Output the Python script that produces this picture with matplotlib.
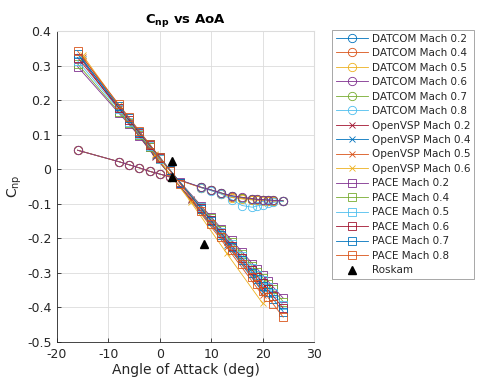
import numpy as np
import matplotlib
matplotlib.use('Agg')
import matplotlib.pyplot as plt

# MATLAB default colour order
mc = ['#0072BD', '#D95319', '#EDB120', '#7E2F8E', '#77AC30', '#4DBEEE', '#A2142F']

# DATCOM data
aoa_datcom = [-16, -8, -6, -4, -2, 0, 2, 8, 10, 12, 14, 16, 18, 19, 20, 21, 22, 24]
datcom_02 = [0.055, 0.022, 0.013, 0.004, -0.006, -0.014, -0.022, -0.052, -0.060, -0.069, -0.077, -0.082, -0.086, -0.088, -0.089, -0.090, -0.091, -0.092]
datcom_04 = [0.055, 0.022, 0.013, 0.004, -0.006, -0.014, -0.023, -0.053, -0.061, -0.071, -0.081, -0.084, -0.088, -0.089, -0.090, -0.091, -0.092, -0.093]
datcom_05 = [0.055, 0.022, 0.013, 0.004, -0.006, -0.014, -0.023, -0.053, -0.061, -0.071, -0.082, -0.086, -0.089, -0.090, -0.091, -0.092, -0.092, -0.093]
datcom_06 = [0.055, 0.022, 0.013, 0.004, -0.006, -0.014, -0.022, -0.052, -0.060, -0.069, -0.077, -0.081, -0.085, -0.087, -0.088, -0.089, -0.090, -0.091]
aoa_datcom_hi = [8, 10, 12, 14, 16, 18, 19, 20, 21, 22, 24]
datcom_07 = [-0.052, -0.060, -0.069, -0.078, -0.082, -0.086, -0.087, -0.088, -0.089, -0.090, -0.091]
datcom_08 = [-0.053, -0.062, -0.072, -0.088, -0.105, -0.110, -0.106, -0.103, -0.099, -0.096, -0.093]

# OpenVSP data
aoa_vsp = [-15, -8, -1, 6, 13, 20]
vsp_02 = [0.312, 0.173, 0.036, -0.085, -0.212, -0.345]
vsp_04 = [0.318, 0.177, 0.038, -0.088, -0.218, -0.355]
vsp_05 = [0.325, 0.180, 0.040, -0.090, -0.225, -0.365]
vsp_06 = [0.330, 0.185, 0.045, -0.094, -0.243, -0.388]

# PACE data
aoa_pace = [-16, -8, -6, -4, -2, 0, 2, 4, 8, 10, 12, 14, 16, 18, 19, 20, 21, 22, 24]
pace_02 = [0.297, 0.163, 0.130, 0.096, 0.063, 0.029, -0.004, -0.038, -0.105, -0.138, -0.172, -0.206, -0.239, -0.273, -0.289, -0.306, -0.323, -0.340, -0.373]
pace_04 = [0.305, 0.167, 0.133, 0.099, 0.064, 0.030, -0.004, -0.039, -0.108, -0.142, -0.176, -0.211, -0.245, -0.280, -0.297, -0.314, -0.331, -0.348, -0.383]
pace_05 = [0.314, 0.173, 0.138, 0.103, 0.067, 0.031, -0.004, -0.039, -0.110, -0.146, -0.181, -0.216, -0.252, -0.287, -0.305, -0.322, -0.340, -0.358, -0.393]
pace_06 = [0.323, 0.178, 0.142, 0.105, 0.069, 0.033, -0.003, -0.040, -0.112, -0.148, -0.185, -0.221, -0.257, -0.293, -0.311, -0.330, -0.348, -0.366, -0.402]
pace_07 = [0.333, 0.184, 0.147, 0.109, 0.072, 0.035, -0.002, -0.040, -0.114, -0.151, -0.189, -0.226, -0.263, -0.300, -0.319, -0.338, -0.356, -0.375, -0.412]
pace_08 = [0.342, 0.188, 0.150, 0.111, 0.073, 0.034, -0.004, -0.043, -0.120, -0.158, -0.197, -0.235, -0.274, -0.312, -0.332, -0.351, -0.370, -0.389, -0.428]

# Roskam points
aoa_roskam = [2.4, 2.4, 8.6]
roskam = [0.025, -0.023, -0.216]

datcom = [('0.2', aoa_datcom, datcom_02), ('0.4', aoa_datcom, datcom_04),
          ('0.5', aoa_datcom, datcom_05), ('0.6', aoa_datcom, datcom_06),
          ('0.7', aoa_datcom_hi, datcom_07), ('0.8', aoa_datcom_hi, datcom_08)]
vsp = [('0.2', vsp_02), ('0.4', vsp_04), ('0.5', vsp_05), ('0.6', vsp_06)]
pace = [('0.2', pace_02), ('0.4', pace_04), ('0.5', pace_05),
        ('0.6', pace_06), ('0.7', pace_07), ('0.8', pace_08)]

plt.rcParams['font.family'] = ['DejaVu Sans']
plt.rcParams['mathtext.fontset'] = 'dejavusans'

fig = plt.figure(figsize=(4.8, 3.87), dpi=100)
ax = fig.add_axes([57/480, 45/387, 257/480, 311/387])

k = 0
kw = dict(lw=0.6, ms=6, mew=0.6, mfc='none')
for m, x, y in datcom:
    z = 2.5 if m == '0.6' else 2
    ax.plot(x, y, marker='o', color=mc[k % 7], label='DATCOM Mach ' + m, zorder=z, **kw)
    k += 1
for m, y in vsp:
    ax.plot(aoa_vsp, y, marker='x', color=mc[k % 7], label='OpenVSP Mach ' + m,
            lw=0.6, ms=5, mew=0.6, zorder=3)
    k += 1
for m, y in pace:
    ax.plot(aoa_pace, y, marker='s', color=mc[k % 7], label='PACE Mach ' + m, zorder=3, **kw)
    k += 1
ax.plot(aoa_roskam, roskam, '^', color='k', ms=5.5, ls='none', label='Roskam', zorder=4)

ax.set_xlim(-20, 30)
ax.set_ylim(-0.5, 0.4)
ax.set_xticks(np.arange(-20, 31, 10))
ax.set_yticks(np.round(np.arange(-0.5, 0.41, 0.1), 1))
ax.set_yticklabels(['-0.5', '-0.4', '-0.3', '-0.2', '-0.1', '0', '0.1', '0.2', '0.3', '0.4'])
ax.set_xticklabels(['-20', '-10', '0', '10', '20', '30'])
ax.grid(True, color='#dcdcdc', lw=0.6)
ax.set_axisbelow(True)
for s in ['top', 'right']:
    ax.spines[s].set_color('#dcdcdc')
for s in ['left', 'bottom']:
    ax.spines[s].set_color('#262626')
    ax.spines[s].set_linewidth(0.6)
ax.tick_params(direction='in', length=3, width=0.6, colors='#262626', labelsize=9,
               top=False, right=False, pad=4)
ax.set_xlabel('Angle of Attack (deg)', fontsize=10, color='#262626', labelpad=2)
ax.set_ylabel('C$_{\\rm np}$', fontsize=10, color='#262626', labelpad=2)
ax.set_title('C$_{\\mathbf{np}}$ vs AoA', fontsize=9.5, fontweight='bold', color='k', pad=6)

leg = fig.legend(loc='upper left', bbox_to_anchor=(332/480, 1 - 30/387), fontsize=7.5,
                 frameon=True, fancybox=False, edgecolor='#7f7f7f', borderpad=0.35,
                 labelspacing=0.43, handlelength=3.1, handletextpad=0.4, borderaxespad=0)
leg.get_frame().set_linewidth(0.6)
for t in leg.get_texts():
    t.set_color('#262626')

fig.savefig('out.png', dpi=100)
